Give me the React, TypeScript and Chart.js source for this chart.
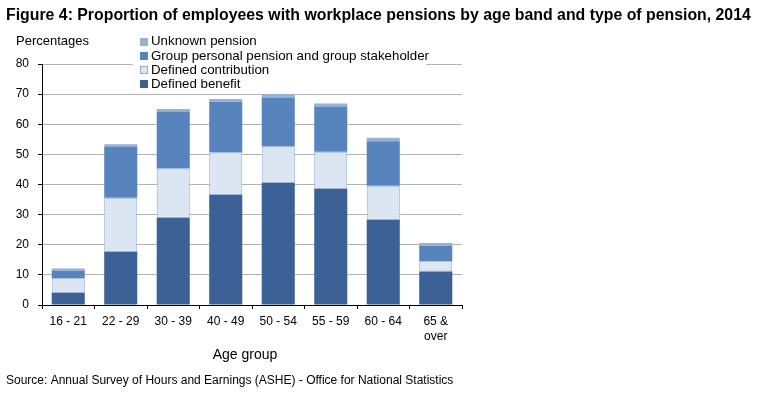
import React, { useEffect, useRef } from 'react';
import { Chart, registerables } from 'chart.js';

Chart.register(...registerables);

const FONT = '"Liberation Sans", Arial, Helvetica, sans-serif';

const titleText = 'Figure 4: Proportion of employees with workplace pensions by age band and type of pension, 2014';
const sourceText = 'Source: Annual Survey of Hours and Earnings (ASHE) - Office for National Statistics';
const yAxisLabel = 'Percentages';
const xAxisLabel = 'Age group';

const categories: (string | string[])[] = ['16 - 21', '22 - 29', '30 - 39', '40 - 49', '50 - 54', '55 - 59', '60 - 64', ['65 &', 'over']];
const definedBenefit = [4.1, 17.7, 29.0, 36.6, 40.6, 38.6, 28.3, 11.1];
const definedContribution = [4.8, 17.9, 16.3, 14.0, 12.0, 12.3, 11.3, 3.4];
const groupPersonal = [2.5, 17.0, 18.9, 16.9, 16.3, 15.0, 14.8, 5.2];
const unknownPension = [0.7, 0.8, 0.9, 0.9, 1.1, 1.0, 1.1, 0.9];
const yMin = 0;
const yMax = 80;
const yStep = 10;

const seriesNames = ['Defined benefit', 'Defined contribution', 'Group personal pension and group stakeholder', 'Unknown pension'];
const seriesColors = ['#3C6196', '#DCE6F2', '#5884BE', '#94B2D8'];
const seriesBorders = ['#3C6196', '#8EAEDA', '#5884BE', '#94B2D8'];
const seriesBorderWidths = [0, 1, 0, 0];

const textPlugin = {
  id: 'extraText',
  afterDraw(chart: any) {
    const ctx = chart.ctx;
    const area = chart.chartArea;
    ctx.save();
    ctx.fillStyle = '#000';
    ctx.textBaseline = 'middle';
    ctx.textAlign = 'left';
    ctx.font = `13px ${FONT}`;
    ctx.fillText(yAxisLabel, area.left - 26, area.top - 23);
    ctx.textAlign = 'center';
    ctx.font = `14px ${FONT}`;
    ctx.fillText(xAxisLabel, (area.left + area.right) / 2 - 7, area.bottom + 50);

    // legend (reverse order)
    const ds = chart.data.datasets.slice().reverse();
    const x0 = area.left + 98;
    const y0 = area.top - 22.3;
    const rowH = 14.2;
    ctx.font = `13.3px ${FONT}`;
    let maxW = 0;
    ds.forEach((d: any) => { maxW = Math.max(maxW, ctx.measureText(d.label).width); });
    ctx.fillStyle = '#fff';
    ctx.fillRect(x0 - 7, y0 - 9, 11 + maxW + 4, rowH * (ds.length - 1) + 17);
    ds.forEach((d: any, i: number) => {
      const y = y0 + i * rowH;
      ctx.fillStyle = d.backgroundColor;
      ctx.fillRect(x0, Math.round(y - 4), 8, 8);
      if (d.borderWidth) {
        ctx.strokeStyle = d.borderColor;
        ctx.lineWidth = 1;
        ctx.strokeRect(x0 + 0.5, Math.round(y - 4) + 0.5, 7, 7);
      }
      ctx.fillStyle = '#000';
      ctx.textAlign = 'left';
      ctx.fillText(d.label, x0 + 11, y);
    });
    ctx.restore();
  },
};

export default function App() {
  const ref = useRef<HTMLCanvasElement | null>(null);
  useEffect(() => {
    if (!ref.current) return;
    const seriesData = [definedBenefit, definedContribution, groupPersonal, unknownPension];
    const chart = new Chart(ref.current, {
      type: 'bar',
      data: {
        labels: categories,
        datasets: seriesData.map((d, i) => ({
          label: seriesNames[i],
          data: d,
          backgroundColor: seriesColors[i],
          borderColor: seriesBorders[i],
          borderWidth: seriesBorderWidths[i],
          borderSkipped: false,
          categoryPercentage: 1,
          barPercentage: 0.63,
        })),
      },
      options: {
        animation: false,
        responsive: false,
        devicePixelRatio: 1,
        layout: { padding: { left: 6, right: 0, top: 0, bottom: 0 } },
        plugins: {
          legend: { display: false },
          tooltip: { enabled: false },
          title: {
            display: true,
            text: titleText,
            align: 'start',
            color: '#000',
            font: { family: FONT, size: 15.85, weight: 'bold', lineHeight: 1.2 },
            padding: { top: 6, bottom: 39 },
          },
          subtitle: {
            display: true,
            text: sourceText,
            position: 'bottom',
            align: 'start',
            color: '#000',
            font: { family: FONT, size: 12, lineHeight: 1.2 },
            padding: { top: 13.8, bottom: 9.8 },
          },
        },
        scales: {
          x: {
            stacked: true,
            afterFit: (s: any) => { s.height = 55; },
            grid: {
              display: true,
              drawOnChartArea: false,
              drawTicks: true,
              tickLength: 4,
              color: '#000',
              offset: true,
            },
            border: { display: true, color: '#000', width: 1 },
            ticks: {
              color: '#000',
              padding: 5,
              maxRotation: 0,
              autoSkip: false,
              font: { family: FONT, size: 12, lineHeight: 1.25 },
            },
          },
          y: {
            stacked: true,
            min: yMin,
            max: yMax,
            afterFit: (s: any) => { s.width = 36; },
            grid: {
              color: (c: any) => (c.tick && c.tick.value === 0 ? '#000' : '#B3B3B3'),
              tickColor: '#000',
              tickLength: 4,
              lineWidth: 1,
            },
            border: { display: true, color: '#000', width: 1 },
            ticks: {
              stepSize: yStep,
              color: '#000',
              padding: 9,
              font: { family: FONT, size: 12 },
            },
          },
          spacer: {
            type: 'linear',
            position: 'right',
            display: true,
            afterFit: (s: any) => { s.width = 295; },
            grid: { display: false, drawTicks: false },
            border: { display: false },
            ticks: { display: false },
          },
        },
      },
      plugins: [textPlugin],
    });
    return () => chart.destroy();
  }, []);
  return (
    <div style={{ position: 'absolute', left: 0, top: 0, width: 757, height: 398, background: '#fff' }}>
      <canvas ref={ref} width={757} height={398} />
    </div>
  );
}
